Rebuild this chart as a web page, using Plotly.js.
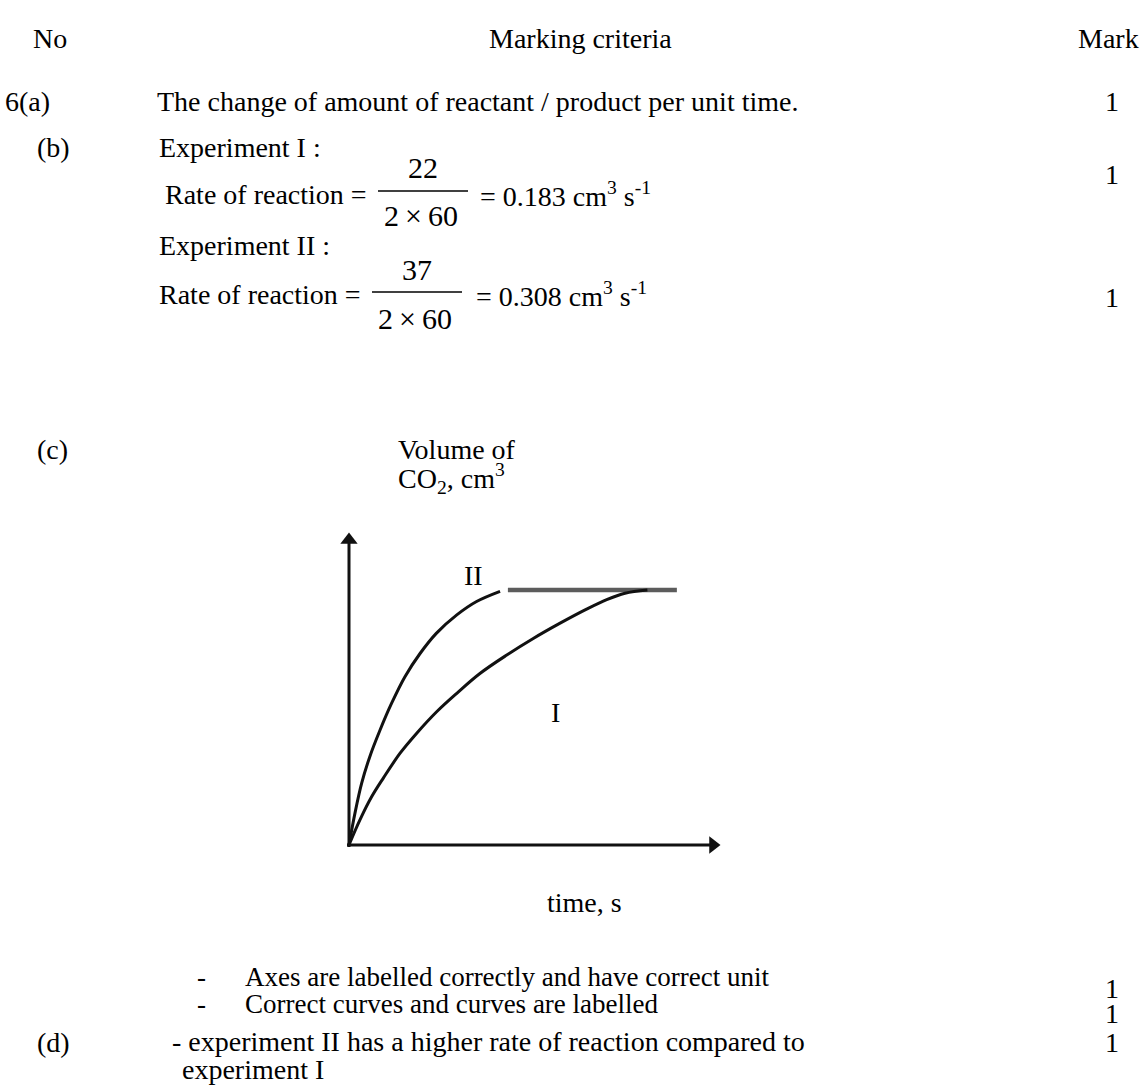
<!DOCTYPE html>
<html>
<head>
<meta charset="utf-8">
<script src="https://cdn.plot.ly/plotly-3.0.1.min.js"></script>
<style>html,body{margin:0;padding:0;background:#fff;}#chart{width:1141px;height:1086px;}</style>
</head>
<body>
<div id="chart"></div>
<script>
// ---- data (sketch curves; arbitrary units) ----
const timeII = [0, 0.16, 0.34, 0.56, 0.83, 1.14, 1.50, 1.90, 2.34, 2.89, 3.42, 4.05];
const volII  = [0, 5.0, 9.7, 13.9, 18.0, 22.2, 26.4, 30.0, 33.2, 36.1, 38.2, 39.8];
const timeI  = [0, 0.29, 0.61, 0.92, 1.37, 1.81, 2.35, 2.89, 3.51, 4.23, 4.94, 5.66, 6.37, 6.91, 7.40, 8.00];
const volI   = [0, 3.9, 7.6, 10.5, 14.4, 17.5, 20.9, 23.8, 26.9, 29.8, 32.4, 34.8, 37.0, 38.5, 39.5, 40.0];
const plateauTime = [4.26, 8.79];
const plateauVol  = [40, 40];
const curveLabels = ["II", "I"];
const axisLabels = ["Volume of", "CO<sub>2</sub>, cm<sup>3</sup>", "time, s"];
const rateI  = {num: "22", den: "2\u2009\u00d7\u200960", result: "= 0.183 cm<sup>3</sup> s<sup>-1</sup>"};
const rateII = {num: "37", den: "2\u2009\u00d7\u200960", result: "= 0.308 cm<sup>3</sup> s<sup>-1</sup>"};

// ---- page geometry ----
const W = 1141, H = 1086;
const X0 = 349, XS = 37.3;   // px of x=0, px per unit
const Y0 = 845, YS = 6.375;  // px of y=0, px per unit
const dx = px => (px - X0) / XS;
const dy = py => (Y0 - py) / YS;
const FONT = "Liberation Serif, Times New Roman, serif";
const FS = 28;
const FF = 30; // fraction font

function T(text, x, y, opts) {
  return Object.assign({
    text: text, x: x / W, y: 1 - y / H, xref: "paper", yref: "paper",
    xanchor: "left", yanchor: "middle", showarrow: false,
    font: {family: FONT, size: FS, color: "#000"}
  }, opts || {});
}
const fracFont = {family: FONT, size: FF, color: "#000"};
const smallFont = {family: FONT, size: 27, color: "#000"};

const annotations = [
  T("No", 31, 38),
  T("Marking criteria", 580, 38, {xanchor: "center"}),
  T("Mark", 1141, 38, {xanchor: "right"}),
  T("6(a)", 3, 101),
  T("The change of amount of reactant / product per unit time.", 155, 101),
  T("1", 1112, 101, {xanchor: "center"}),
  T("(b)", 35, 147),
  T("Experiment I :", 157, 147),
  T("Rate of reaction =", 163, 194),
  T(rateI.num, 423, 167, {xanchor: "center", font: fracFont}),
  T(rateI.den, 421, 216, {xanchor: "center", font: fracFont}),
  T(rateI.result, 478, 194),
  T("1", 1112, 174, {xanchor: "center"}),
  T("Experiment II :", 157, 246),
  T("Rate of reaction =", 157, 294),
  T(rateII.num, 417, 269, {xanchor: "center", font: fracFont}),
  T(rateII.den, 415, 318, {xanchor: "center", font: fracFont}),
  T(rateII.result, 474, 294),
  T("1", 1112, 297, {xanchor: "center"}),
  T("(c)", 35, 450),
  T(axisLabels[0], 396, 450),
  T(axisLabels[1], 396, 479),
  T(axisLabels[2], 584, 902, {xanchor: "center"}),
  T("-", 195, 977, {font: smallFont}),
  T("Axes are labelled correctly and have correct unit", 243, 977, {font: smallFont}),
  T("1", 1112, 988, {xanchor: "center"}),
  T("-", 195, 1004, {font: smallFont}),
  T("Correct curves and curves are labelled", 243, 1004, {font: smallFont}),
  T("1", 1112, 1014, {xanchor: "center"}),
  T("(d)", 35, 1042),
  T("- experiment II has a higher rate of reaction compared to", 170, 1041),
  T("1", 1112, 1042, {xanchor: "center"}),
  T("experiment I", 180, 1069),
  // curve labels
  {text: curveLabels[0], x: dx(473), y: dy(575), xref: "x", yref: "y", showarrow: false,
   font: {family: FONT, size: FS, color: "#000"}},
  {text: curveLabels[1], x: dx(555), y: dy(712), xref: "x", yref: "y", showarrow: false,
   font: {family: FONT, size: FS, color: "#000"}}
];

// axis extents (sketch axes, no ticks)
const yTop = dy(540), xRight = dx(713);
const shapes = [
  {type: "line", xref: "paper", yref: "paper", x0: 378 / W, x1: 468 / W, y0: 1 - 191 / H, y1: 1 - 191 / H,
   line: {color: "#000", width: 1.3}},
  {type: "line", xref: "paper", yref: "paper", x0: 372 / W, x1: 462 / W, y0: 1 - 292 / H, y1: 1 - 292 / H,
   line: {color: "#000", width: 1.3}},
  {type: "line", xref: "x", yref: "y", x0: 0, x1: 0, y0: dy(847), y1: yTop, line: {color: "#111", width: 3}},
  {type: "line", xref: "x", yref: "y", x0: dx(347), x1: xRight, y0: 0, y1: 0, line: {color: "#111", width: 3}}
];

const traces = [
  {x: plateauTime, y: plateauVol, mode: "lines", line: {color: "#5c5c5c", width: 4.5}, hoverinfo: "skip"},
  {x: timeII, y: volII, mode: "lines", line: {color: "#111", width: 3, shape: "spline", smoothing: 1}, hoverinfo: "skip"},
  {x: timeI, y: volI, mode: "lines", line: {color: "#111", width: 3, shape: "spline", smoothing: 1}, hoverinfo: "skip"},
  {x: [0], y: [yTop], mode: "markers", marker: {symbol: "triangle-up", size: 15, color: "#111"}, hoverinfo: "skip"},
  {x: [xRight], y: [0], mode: "markers", marker: {symbol: "triangle-right", size: 15, color: "#111"}, hoverinfo: "skip"}
];

const axBase = {showgrid: false, zeroline: false, showticklabels: false, showline: false, ticks: "", fixedrange: true};
const layout = {
  width: W, height: H,
  margin: {l: 0, r: 0, t: 0, b: 0},
  paper_bgcolor: "#fff", plot_bgcolor: "rgba(0,0,0,0)",
  showlegend: false,
  xaxis: Object.assign({}, axBase, {domain: [300 / W, 760 / W], range: [dx(300), dx(760)]}),
  yaxis: Object.assign({}, axBase, {domain: [1 - 870 / H, 1 - 520 / H], range: [dy(870), dy(520)]}),
  annotations: annotations,
  shapes: shapes
};

Plotly.newPlot("chart", traces, layout, {staticPlot: true, displayModeBar: false});
</script>
</body>
</html>
